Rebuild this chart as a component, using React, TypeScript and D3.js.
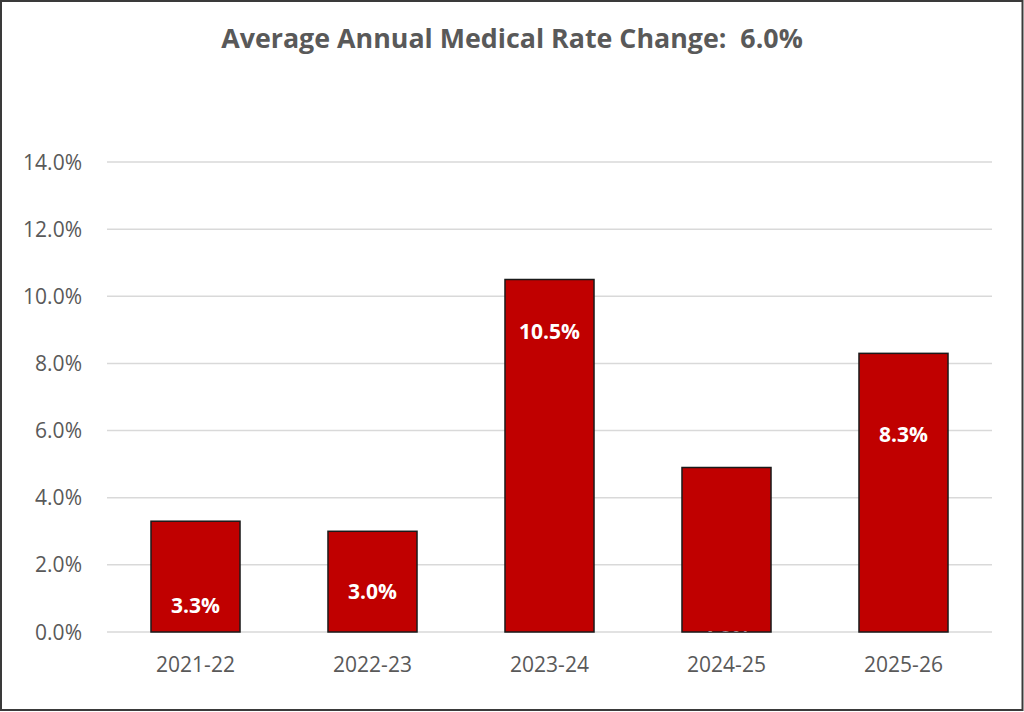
import React from "react";
import * as d3 from "d3";

const categories = ["2021-22", "2022-23", "2023-24", "2024-25", "2025-26"];
const values = [3.3, 3.0, 10.5, 4.9, 8.3];
// where each data label sits, in value units
const labelAnchors = [0.8, 1.22, 8.94, -0.18, 5.87];
const yTicks = [0, 2, 4, 6, 8, 10, 12, 14];
const title = "Average Annual Medical Rate Change:  6.0%";

const W = 1024;
const H = 712;
const M = { left: 107, right: 992, top: 162, bottom: 632 };

export default function App() {
  const x = d3
    .scaleBand<string>()
    .domain(categories)
    .range([M.left, M.right])
    .paddingInner(0.497)
    .paddingOuter(0.2485);
  const y = d3.scaleLinear().domain([0, 14]).range([M.bottom, M.top]);
  const font = "'Open Sans', 'Noto Sans', sans-serif";
  return (
    <div style={{ position: "fixed", left: 0, top: 0 }}>
      <svg width={W} height={H} style={{ display: "block", background: "#fff" }}>
        <defs>
          <clipPath id="plotclip">
            <rect x={M.left} y={0} width={M.right - M.left} height={M.bottom - 0.5} />
          </clipPath>
        </defs>
        <rect x={0} y={0} width={W} height={H} fill="#fff" />
        <text
          x={512}
          y={48}
          textAnchor="middle"
          fontFamily={font}
          fontWeight={700}
          fontSize={26.8}
          fill="#595959"
          style={{ whiteSpace: "pre" }}
        >
          {title}
        </text>
        {yTicks.map((t) => (
          <g key={t}>
            <line
              x1={M.left}
              x2={M.right}
              y1={y(t)}
              y2={y(t)}
              stroke="#d9d9d9"
              strokeWidth={1.5}
            />
            <text
              x={82}
              y={y(t)}
              dy="0.36em"
              textAnchor="end"
              fontFamily={font}
              fontSize={21}
              fill="#595959"
            >
              {t.toFixed(1) + "%"}
            </text>
          </g>
        ))}
        {categories.map((c, i) => (
          <g key={c}>
            <rect
              x={x(c)}
              y={y(values[i])}
              width={x.bandwidth()}
              height={y(0) - y(values[i])}
              fill="#C00000"
              stroke="#1a1a1a"
              strokeWidth={1.5}
            />
            <text
              x={(x(c) as number) + x.bandwidth() / 2}
              y={672}
              textAnchor="middle"
              fontFamily={font}
              fontSize={21}
              fill="#595959"
            >
              {c}
            </text>
          </g>
        ))}
        <g clipPath="url(#plotclip)">
          {categories.map((c, i) => (
            <text
              key={c}
              x={(x(c) as number) + x.bandwidth() / 2}
              y={y(labelAnchors[i])}
              dy="0.36em"
              textAnchor="middle"
              fontFamily={font}
              fontWeight={700}
              fontSize={21}
              fill="#fff"
            >
              {values[i].toFixed(1) + "%"}
            </text>
          ))}
        </g>
        <rect
          x={1}
          y={1}
          width={1021.5}
          height={709}
          fill="none"
          stroke="#3a3a3a"
          strokeWidth={2}
        />
      </svg>
    </div>
  );
}
